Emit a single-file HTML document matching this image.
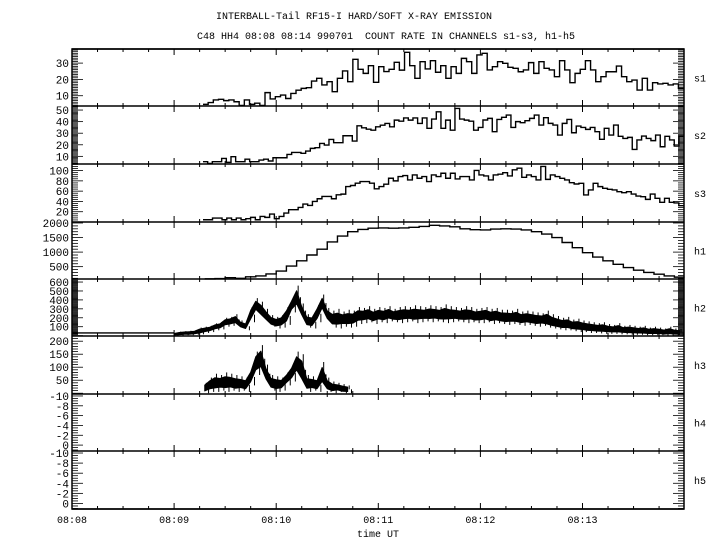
<!DOCTYPE html>
<html><head><meta charset="utf-8"><style>
html,body{margin:0;padding:0;background:#fff;}
svg{display:block;font-family:"Liberation Mono",monospace;}
</style></head><body>
<svg id="chart" width="720" height="550" viewBox="0 0 720 550" xmlns="http://www.w3.org/2000/svg">
<rect width="720" height="550" fill="#fff"/>
<text x="354" y="19" font-size="10" text-anchor="middle">INTERBALL-Tail RF15-I HARD/SOFT X-RAY EMISSION</text>
<text x="386" y="39" font-size="10" text-anchor="middle" xml:space="preserve">C48 HH4 08:08 08:14 990701  COUNT RATE IN CHANNELS s1-s3, h1-h5</text>
<text x="378" y="537" font-size="10" text-anchor="middle">time UT</text>
<g id="axes"></g>
<g id="series"></g>
</svg>
<script>
// ---- data ----
const timeLabels = ["08:08","08:09","08:10","08:11","08:12","08:13"];
const panelNames = ["s1","s2","s3","h1","h2","h3","h4","h5"];
const s1Start = 1.283;
const s1 = [4.7,5.8,7.4,7.8,7,7.4,6.3,4,7.4,4.7,5.4,4,11.9,8,9.4,10.4,8.3,11.4,13.4,14.5,14.9,19,20.7,16.6,18.6,12.5,20.7,25.2,18.6,32.3,26.2,23.7,28.4,18.2,27.8,24.8,26.2,30.5,25.7,36.6,28.4,20.7,30.9,26.4,31.5,24.4,28.4,20.7,27.8,23.7,32.9,
30.9,23.7,35,36,25.8,27.8,30.9,29.9,27.4,26.8,24.7,25.8,30.3,23.7,30.9,26.8,25.8,21.7,31.5,25.8,18,23.7,26.2,31.5,25.8,18.6,21.7,24.7,24.7,28.2,21.7,18.6,19.6,13.5,20.7,13.5,18,17.2,17.6,16.6,17.2,14.5];
const s2 = [5.4,3.9,5.4,5.4,8.2,4.8,9.7,5.4,5.4,7.6,5.4,5.4,6.8,7.6,6,8.8,8.8,8.8,11.7,13.4,13.4,12.6,14.6,16.9,17.5,21.2,19.8,24.6,21.8,21.8,27.8,27.8,23.2,36.4,34.7,33.5,32.6,35.5,36.9,38.4,35.5,41.3,40.4,43.2,41.3,43.2,38.4,43.2,34.2,42.2,48.5,34.2,41.3,32.6,51.4,42.2,41.3,40.4,32.6,
35,41.4,42.8,31.3,41.9,43.7,45.7,35,40,39.1,40.8,42.8,45.7,37,43.4,38.5,37,28.4,38.5,41.9,30.4,36.2,35,33.3,35,31.3,24.7,34.2,28.4,37,27.3,25.5,26.4,16,24.2,27.5,25.5,23.6,28.4,18.3,27.3,24.2,18.9,27.3];
const s3 = [4.4,4.4,7.7,7.7,4.4,7.7,4.4,7.7,4.4,6.4,9,4.4,10.9,9,15.4,6.4,10.9,17.4,23.9,23.9,28.4,34.9,32.3,40,45.2,49.7,49.7,45.2,52.9,54.2,69,71,75.5,78.7,78.7,75.5,64.5,69,73.6,85.1,80,88.3,90.3,81.9,91.6,85.1,88.3,78.7,91.6,88.3,94.8,85.1,94.8,83.8,88.3,88.3,
81.8,100.2,91.5,89.5,81.8,91.5,93,96,89.5,101.5,104.7,87,91.5,88.3,81.8,108,82.9,91.5,88.3,84.9,81.8,76.5,73.9,75.2,52.6,62.3,75.2,68.8,65.5,63.6,62.3,59,57,59,54.4,50.5,49.2,44,54.4,46,38.3,46,38.3,37,31.8];
const h1Start = 1.3;
const h1 = [80,90,120,100,150,180,250,350,520,700,900,1100,1350,1550,1700,1780,1820,1830,1820,1830,1850,1880,1920,1900,1870,1800,1770,1760,1790,1800,1790,1760,1700,1620,1500,1330,1150,980,830,700,580,470,380,300,240,180,140];
const h2Start = 1.0;
const h2Baseline = 30;
const h2Low = [0,0,5,5,10,15,30,40,60,70,100,110,120,80,60,150,260,200,150,100,80,90,120,260,300,200,90,80,150,270,160,90,80,100,90,100,130,140,150,130,150,140,160,150,140,150,160,140,150,160,150,160,150,140,150,160,150,140,150,140,140,150,130,140,130,120,130,120,110,120,110,100,110,90,80,70,60,60,50,40,40,30,30,25,20,20,20,15,15,10,10,10,5,5,5,5,0,0,0,0];
const h2High = [30,45,50,55,60,90,100,110,137,150,200,210,240,170,150,320,420,380,300,230,210,230,320,420,560,360,240,230,340,460,310,280,300,270,290,280,320,310,330,300,320,310,330,300,320,330,320,340,330,320,340,330,320,350,330,320,310,330,320,300,310,320,300,310,290,290,280,300,270,280,270,260,250,280,240,220,200,210,180,190,170,160,150,140,150,130,120,140,110,120,110,100,110,90,100,90,80,100,80,70];
const h3Start = 1.3;
const h3Low = [0,5,5,10,5,10,5,10,5,30,70,80,40,10,5,10,30,45,70,30,5,10,5,25,5,0,5,0,0];
const h3High = [40,60,75,70,80,75,70,65,60,95,160,185,110,70,65,60,80,110,160,150,70,65,60,120,60,45,40,35,30];
const h2Step = 0.05, h3Step = 0.05, h1Step = 0.1;

// ---- layout ----
const X0 = 72, PXMIN = 102.1, X1 = 684;
const tops = [49,106,164,222,279,336,394,451,509];
const vTop = [38.65,53.5,112.8,2034,634,220,-10.4,-10.4];
const vBot = [3.7,3.4,0,76,-4,-3,1.2,1.1];
const majorStep = [10,10,20,500,100,50,2,2];
const minorStep = [1,1,4,100,10,10,0.5,0.5];
const labelMin = [10,10,20,500,100,50,-10,-10];
const labelMax = [30,50,100,2000,600,200,0,0];

const NS = "http://www.w3.org/2000/svg";
const axes = document.getElementById("axes");
const series = document.getElementById("series");
function xs(t){ return X0 + t*PXMIN; }
function ys(p, v){
  const top = tops[p], bot = tops[p+1];
  let y = bot - (v - vBot[p])/(vTop[p]-vBot[p])*(bot-top);
  return Math.max(top, Math.min(bot, y));
}
function mk(tag, attrs, parent){
  const e = document.createElementNS(NS, tag);
  for (const k in attrs) e.setAttribute(k, attrs[k]);
  parent.appendChild(e);
  return e;
}
function line(x1,y1,x2,y2,parent,w){
  return mk("line",{x1:x1,y1:y1,x2:x2,y2:y2,stroke:"#000","stroke-width":w||1},parent);
}

const frame = mk("rect",{x:X0,y:tops[0],width:X1-X0,height:tops[8]-tops[0],fill:"none",stroke:"#000","stroke-width":1.5},axes);



for (let b=0; b<tops.length; b++){
  const y = tops[b];
  const sep = line(X0,y,X1,y,axes,1.5);
  
  
  for (let q=1; q<24; q++){
    const x = xs(q*0.25);
    const major = q%4===0;
    const up = (b===0)?0:(major?6:3);
    const dn = (b===tops.length-1)?0:(major?6:3);
    const tk = line(x,y-up,x,y+dn,axes,1);
    
    
  }
}
for (let i=0;i<timeLabels.length;i++){
  const t = mk("text",{x:xs(i),y:523,"font-size":10,"text-anchor":"middle"},axes);
  t.textContent = timeLabels[i];
  
  
}
for (let p=0;p<8;p++){
  const lo = Math.min(vTop[p],vBot[p]), hi = Math.max(vTop[p],vBot[p]);
  const start = Math.ceil(lo/minorStep[p]);
  const end = Math.floor(hi/minorStep[p]);
  for (let k=start;k<=end;k++){
    const v = k*minorStep[p];
    const y = ys(p,v);
    const isMajor = Math.abs(v/majorStep[p]-Math.round(v/majorStep[p]))<1e-6;
    const len = isMajor?11:6;
    const a = line(X0,y,X0+len,y,axes,0.8);
    
    
    const b = line(X1-len,y,X1,y,axes,0.8);
    
    
  }
  for (let v=labelMin[p]; v<=labelMax[p]+1e-9; v+=majorStep[p]){
    const t = mk("text",{x:69,y:ys(p,v)+4,"font-size":11,"text-anchor":"end"},axes);
    t.textContent = String(v);
    
    
  }
  const pl = mk("text",{x:694,y:(tops[p]+tops[p+1])/2+4,"font-size":10},axes);
  pl.textContent = panelNames[p];
  
  
}

function hist(p, arr, t0, w, name){
  let d = "";
  for (let i=0;i<arr.length;i++){
    const xa = xs(t0+i*w), xb = xs(t0+(i+1)*w), y = ys(p,arr[i]);
    d += (i===0?("M"+xa+","+y):("V"+y)) + "H"+xb;
  }
  const e = mk("path",{d:d,fill:"none",stroke:"#000","stroke-width":1.4},series);
  
  
}
const tEnd = 5.99;
hist(0, s1, s1Start, (tEnd-s1Start)/s1.length, "s1-histogram");
hist(1, s2, s1Start, (tEnd-s1Start)/s2.length, "s2-histogram");
hist(2, s3, s1Start, (tEnd-s1Start)/s3.length, "s3-histogram");
hist(3, h1, h1Start, h1Step, "h1-histogram");

// noisy bands: solid core (inner part of envelope) + thin spikes to full extent
function band(p, lo, hi, t0, step, name){
  let pts = [];
  for (let i=0;i<hi.length;i++) pts.push(xs(t0+i*step)+","+ys(p,hi[i]-0.22*(hi[i]-lo[i])));
  for (let i=lo.length-1;i>=0;i--) pts.push(xs(t0+i*step)+","+ys(p,lo[i]+0.22*(hi[i]-lo[i])));
  const e = mk("polygon",{points:pts.join(" "),fill:"#000",stroke:"#000","stroke-width":1,"stroke-linejoin":"round"},series);
  
  
  for (let i=0;i<hi.length;i++){
    const xa = xs(t0+(i+0.3)*step), xb = xs(t0+(i+0.75)*step);
    const v1 = line(xa, ys(p,hi[i]), xa, ys(p,(hi[i]+lo[i])/2), series, 1);
    
    
    const v2 = line(xb, ys(p,(hi[i]+lo[i])/2), xb, ys(p,lo[i]), series, 1);
    
    
  }
}
const bl = line(X0, ys(4,h2Baseline), xs(h2Start), ys(4,h2Baseline), series, 1.4);


band(4, h2Low, h2High, h2Start, h2Step, "h2-band");
band(5, h3Low, h3High, h3Start, h3Step, "h3-band");
</script>
</body></html>
